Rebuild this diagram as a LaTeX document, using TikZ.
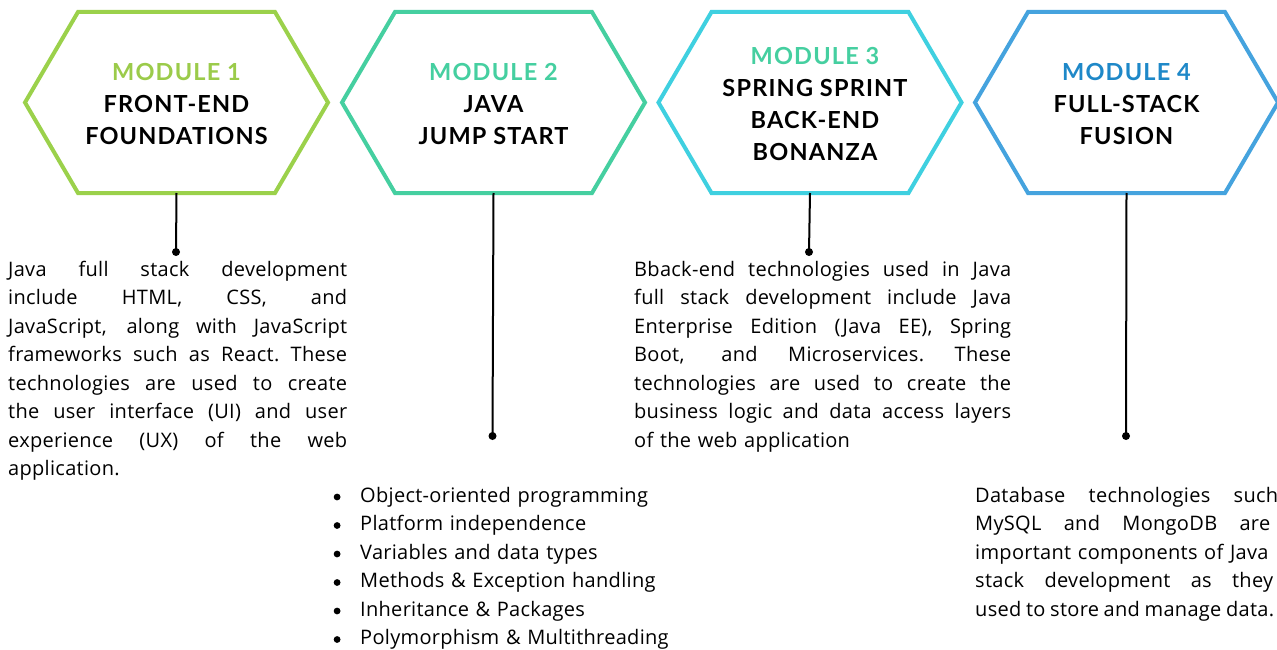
\documentclass[tikz,border=0pt]{standalone}
\usepackage{fontspec}
\setmainfont[LetterSpace=1.5]{Open Sans}
\newfontfamily\headfont[LetterSpace=5]{Lato}
\definecolor{c1}{HTML}{9BD14B}
\definecolor{c2}{HTML}{45CFA0}
\definecolor{c3}{HTML}{3FD0E0}
\definecolor{c4}{HTML}{45A3DE}
\definecolor{l1}{HTML}{9BCB4A}
\definecolor{l2}{HTML}{45CFA0}
\definecolor{l4}{HTML}{1E88C8}
\newcommand\jl[2]{{\spaceskip=0.26em plus 1fil\xspaceskip=0.26em plus 1fil\makebox[#1pt][s]{#2}}}
\newcommand\jls[2]{{\spaceskip=0.26em minus 0.1em\xspaceskip=0.26em minus 0.1em\makebox[#1pt][s]{#2}}}
\newcommand\bul{\makebox[27pt][l]{\hspace{0.5pt}\tikz[baseline=-5pt]\fill (0,0) circle (3.4pt);}}
\newcommand\hexshape[3]{% name, center x, colour
  \draw[hexline, draw=#3] ({#2-151.5},102.5) -- ({#2-98.5},12) -- ({#2+98.5},12)
    -- ({#2+151.5},102.5) -- ({#2+98.5},193) -- ({#2-98.5},193) -- cycle;
  \coordinate (#1) at (#2,193);}
\tikzset{
  hexline/.style={line width=4pt, line join=miter},
  head/.style={align=center, inner sep=0pt, font={\headfont\bfseries\fontsize{23.5}{32}\selectfont}},
  body/.style={align=left, inner sep=0pt, anchor=base west, font={\fontsize{20}{28.5}\selectfont\spaceskip=0.26em\xspaceskip=0.26em}},
  dotnode/.style={circle, fill=black, inner sep=0pt, minimum size=8pt},
  stem/.style={line width=2pt, draw=black}
}
\begin{document}
\begin{tikzpicture}[x=1pt,y=-1pt]
\useasboundingbox (0,0) rectangle (1277,650);
\clip (0,0) rectangle (1277,650);
\fill[white] (0,0) rectangle (1277,650);

\hexshape{h1}{176.5}{c1}
\hexshape{h2}{493.5}{c2}
\hexshape{h3}{810}{c3}
\hexshape{h4}{1126.5}{c4}

\node[head] (t1) at (176.5,104) {\textcolor{l1}{MODULE 1}\\FRONT-END\\FOUNDATIONS};
\node[head] (t2) at (493.5,104) {\textcolor{l2}{MODULE 2}\\JAVA\\JUMP START};
\node[head] (t3) at (815,104) {\textcolor{l2}{MODULE 3}\\SPRING SPRINT\\BACK-END\\BONANZA};
\node[head] (t4) at (1126.5,104) {\textcolor{l4}{MODULE 4}\\FULL-STACK\\FUSION};

\node[dotnode] (d1) at (176,252) {};
\node[dotnode] (d2) at (492.5,436) {};
\node[dotnode] (d3) at (809,252) {};
\node[dotnode] (d4) at (1126,436) {};
\draw[stem] (h1) -- (d1.center);
\draw[stem] (h2) -- (d2.center);
\draw[stem] (h3) -- (d3.center);
\draw[stem] (h4) -- (d4.center);

\node[body, text width=339pt] (p1) at (8,276) {%
\jl{339}{Java full stack development}\\
\jl{339}{include HTML, CSS, and}\\
\jl{339}{JavaScript, along with JavaScript}\\
\jl{339}{frameworks such as React. These}\\
\jl{339}{technologies are used to create}\\
\jl{339}{the user interface (UI) and user}\\
\jl{339}{experience (UX) of the web}\\
application.};

\node[body, text width=377pt] (p3) at (634,276) {%
\jl{377}{Bback-end technologies used in Java}\\
\jl{377}{full stack development include Java}\\
\jl{377}{Enterprise Edition (Java EE), Spring}\\
\jl{377}{Boot, and Microservices. These}\\
\jl{377}{technologies are used to create the}\\
\jl{377}{business logic and data access layers}\\
of the web application};

\node[body, text width=340pt] (p2) at (333,502) {%
\bul Object-oriented programming\\
\bul Platform independence\\
\bul Variables and data types\\
\bul Methods \& Exception handling\\
\bul Inheritance \& Packages\\
\bul Polymorphism \& Multithreading};

\node[body, text width=300pt] (p4) at (975,502) {%
\jl{303}{Database technologies such}\\
\jl{295}{MySQL and MongoDB are}\\
important components of Java\\
\jl{298}{stack development as they}\\
\jls{299}{used to store and manage data.}};
\end{tikzpicture}
\end{document}
